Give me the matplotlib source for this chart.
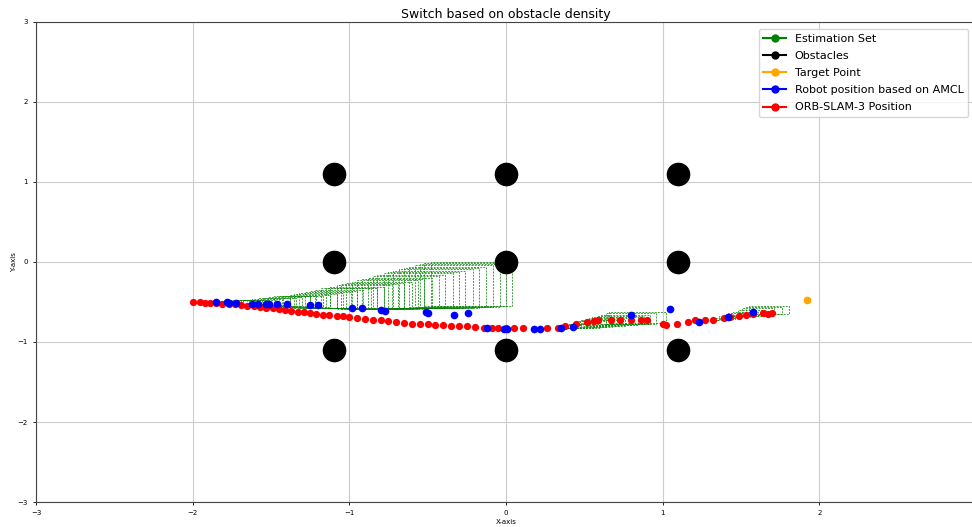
import matplotlib.pyplot as plt
import matplotlib.patches as mpatches
from matplotlib.lines import Line2D

# obstacle grid
obstacle_x = [-1.1, -1.1, -1.1, 0.0, 0.0, 0.0, 1.1, 1.1, 1.1]
obstacle_y = [1.1, 0.0, -1.1, 1.1, 0.0, -1.1, 1.1, 0.0, -1.1]

target_x = [1.92]
target_y = [-0.48]

# ORB-SLAM-3 trajectory
orb_x = [-2.00, -1.95, -1.92, -1.89, -1.85, -1.81, -1.77, -1.73, -1.69, -1.65,
         -1.61, -1.57, -1.53, -1.49, -1.45, -1.41, -1.37, -1.33, -1.29, -1.25,
         -1.21, -1.17, -1.13, -1.08, -1.04, -1.00, -0.95, -0.90, -0.85, -0.80,
         -0.75, -0.70, -0.65, -0.60, -0.55, -0.50, -0.45, -0.40, -0.35, -0.30,
         -0.25, -0.20, -0.14, -0.09, -0.05, 0.00, 0.05, 0.11, 0.26, 0.33,
         0.38, 0.45, 0.52, 0.56, 0.59, 0.67, 0.73, 0.80, 0.86, 0.90,
         1.00, 1.02, 1.09, 1.16, 1.21, 1.27, 1.32, 1.39, 1.43, 1.49,
         1.53, 1.58, 1.64, 1.67, 1.70]
orb_y = [-0.50, -0.50, -0.51, -0.51, -0.51, -0.52, -0.52, -0.53, -0.54, -0.55,
         -0.55, -0.56, -0.57, -0.58, -0.59, -0.60, -0.61, -0.62, -0.63, -0.64,
         -0.65, -0.66, -0.66, -0.67, -0.68, -0.69, -0.70, -0.71, -0.72, -0.73,
         -0.74, -0.75, -0.76, -0.77, -0.78, -0.78, -0.79, -0.79, -0.80, -0.80,
         -0.80, -0.81, -0.82, -0.83, -0.83, -0.83, -0.83, -0.83, -0.83, -0.83,
         -0.80, -0.78, -0.75, -0.74, -0.73, -0.72, -0.72, -0.72, -0.72, -0.72,
         -0.78, -0.79, -0.77, -0.75, -0.73, -0.72, -0.72, -0.70, -0.69, -0.67,
         -0.66, -0.65, -0.64, -0.65, -0.64]

# AMCL robot positions
amcl_x = [-1.85, -1.78, -1.77, -1.72, -1.62, -1.58, -1.53, -1.51, -1.46, -1.40,
          -1.25, -1.20, -0.98, -0.92, -0.80, -0.77, -0.51, -0.50, -0.33, -0.24,
          -0.12, -0.01, 0.01, 0.18, 0.22, 0.35, 0.43, 0.80, 1.05, 1.23,
          1.42, 1.58]
amcl_y = [-0.50, -0.50, -0.51, -0.51, -0.52, -0.52, -0.52, -0.52, -0.52, -0.52,
          -0.54, -0.54, -0.58, -0.57, -0.60, -0.61, -0.63, -0.64, -0.66, -0.64,
          -0.82, -0.84, -0.84, -0.84, -0.84, -0.83, -0.81, -0.66, -0.59, -0.75,
          -0.69, -0.62]

# estimation set boxes (three stretches): left, right, bottom, top
est_left = [-1.98, -1.95, -1.92, -1.88, -1.85, -1.82, -1.78, -1.75, -1.72, -1.68,
            -1.65, -1.62, -1.58, -1.55, -1.52, -1.48, -1.45, -1.42, -1.38, -1.35,
            -1.32, -1.28, -1.25, -1.22, -1.18, -1.15, -1.12, -1.08, -1.05, -1.02,
            -0.98, -0.95, -0.92, -0.88, -0.85, -0.82, -0.78, -0.75, -0.72, -0.68,
            -0.65, -0.62, -0.58, -0.55, -0.52, -0.48,
            0.33, 0.35, 0.37, 0.39, 0.41, 0.43, 0.45, 0.47, 0.49, 0.51,
            0.53, 0.55, 0.58, 0.61, 0.64, 0.66,
            1.30, 1.33, 1.36, 1.39, 1.42, 1.45, 1.48, 1.51, 1.53, 1.55]
est_right = [-1.90, -1.86, -1.82, -1.77, -1.73, -1.69, -1.64, -1.60, -1.56, -1.51,
             -1.47, -1.43, -1.38, -1.34, -1.30, -1.25, -1.21, -1.17, -1.12, -1.08,
             -1.04, -0.99, -0.95, -0.91, -0.86, -0.82, -0.78, -0.73, -0.69, -0.65,
             -0.60, -0.56, -0.52, -0.47, -0.43, -0.39, -0.34, -0.30, -0.26, -0.21,
             -0.17, -0.13, -0.08, -0.04, 0.00, 0.04,
             0.40, 0.44, 0.48, 0.52, 0.56, 0.60, 0.64, 0.68, 0.72, 0.76,
             0.80, 0.84, 0.88, 0.92, 0.96, 1.02,
             1.36, 1.41, 1.46, 1.51, 1.56, 1.61, 1.66, 1.71, 1.76, 1.81]
est_bottom = [-0.51, -0.51, -0.51, -0.52, -0.52, -0.52, -0.52, -0.53, -0.53, -0.53,
              -0.54, -0.54, -0.54, -0.55, -0.55, -0.55, -0.56, -0.56, -0.56, -0.57,
              -0.57, -0.57, -0.58, -0.58, -0.58, -0.58, -0.58, -0.59, -0.59, -0.59,
              -0.59, -0.59, -0.59, -0.58, -0.58, -0.58, -0.58, -0.58, -0.57, -0.57,
              -0.57, -0.56, -0.56, -0.56, -0.55, -0.55,
              -0.83, -0.83, -0.83, -0.82, -0.82, -0.82, -0.81, -0.81, -0.80, -0.80,
              -0.79, -0.79, -0.78, -0.78, -0.77, -0.76,
              -0.73, -0.72, -0.71, -0.70, -0.69, -0.68, -0.67, -0.66, -0.65, -0.65]
est_top = [-0.50, -0.50, -0.50, -0.49, -0.49, -0.49, -0.48, -0.48, -0.48, -0.47,
           -0.47, -0.46, -0.45, -0.45, -0.44, -0.43, -0.43, -0.42, -0.41, -0.40,
           -0.39, -0.37, -0.36, -0.35, -0.33, -0.32, -0.31, -0.29, -0.28, -0.26,
           -0.25, -0.23, -0.21, -0.20, -0.18, -0.16, -0.14, -0.12, -0.11, -0.09,
           -0.07, -0.06, -0.04, -0.03, -0.01, 0.00,
           -0.82, -0.81, -0.79, -0.78, -0.77, -0.76, -0.74, -0.73, -0.72, -0.71,
           -0.70, -0.69, -0.67, -0.66, -0.64, -0.63,
           -0.72, -0.70, -0.68, -0.66, -0.64, -0.62, -0.60, -0.58, -0.56, -0.55]

fig = plt.figure(figsize=(9.72, 5.27), dpi=100)
ax = fig.add_axes([0.037, 0.0474, 0.967, 0.911])

for l, r, b, t in zip(est_left, est_right, est_bottom, est_top):
    box = mpatches.Rectangle((l, b), r - l, t - b, fill=False,
                             edgecolor='green', linestyle=(0, (2, 1.2)),
                             linewidth=0.7, alpha=0.75)
    ax.add_patch(box)

ax.plot(obstacle_x, obstacle_y, 'o', color='black', markersize=16, zorder=3)
ax.plot(orb_x, orb_y, 'o', color='red', markersize=4.2, zorder=4)
ax.plot(amcl_x, amcl_y, 'o', color='blue', markersize=4.5, zorder=5)
ax.plot(target_x, target_y, 'o', color='orange', markersize=4.5, zorder=5)

ax.set_xlim(-3, 3)
ax.set_ylim(-3, 3)
ax.set_xticks([-3, -2, -1, 0, 1, 2])
ax.set_yticks([-3, -2, -1, 0, 1, 2, 3])
ax.tick_params(labelsize=5, length=2.5, width=0.6)
ax.grid(True, color='#cccccc', linewidth=0.8)
ax.set_axisbelow(True)
for s in ax.spines.values():
    s.set_linewidth(0.8)
    s.set_color('#444444')

ax.set_xlabel('X-axis', fontsize=5, labelpad=2)
ax.set_ylabel('Y-axis', fontsize=5, labelpad=0)
ax.set_title('Switch based on obstacle density', fontsize=9, pad=3)

handles = [
    Line2D([], [], color='green', marker='o', markersize=5, label='Estimation Set'),
    Line2D([], [], color='black', marker='o', markersize=5, label='Obstacles'),
    Line2D([], [], color='orange', marker='o', markersize=5, label='Target Point'),
    Line2D([], [], color='blue', marker='o', markersize=5,
           label='Robot position based on AMCL'),
    Line2D([], [], color='red', marker='o', markersize=5, label='ORB-SLAM-3 Position'),
]
ax.legend(handles=handles, loc='upper right', fontsize=8, labelspacing=0.65,
          bbox_to_anchor=(0.998, 0.949), bbox_transform=fig.transFigure,
          handlelength=2.0, borderaxespad=0.2)

plt.savefig('out.png', dpi=100)
